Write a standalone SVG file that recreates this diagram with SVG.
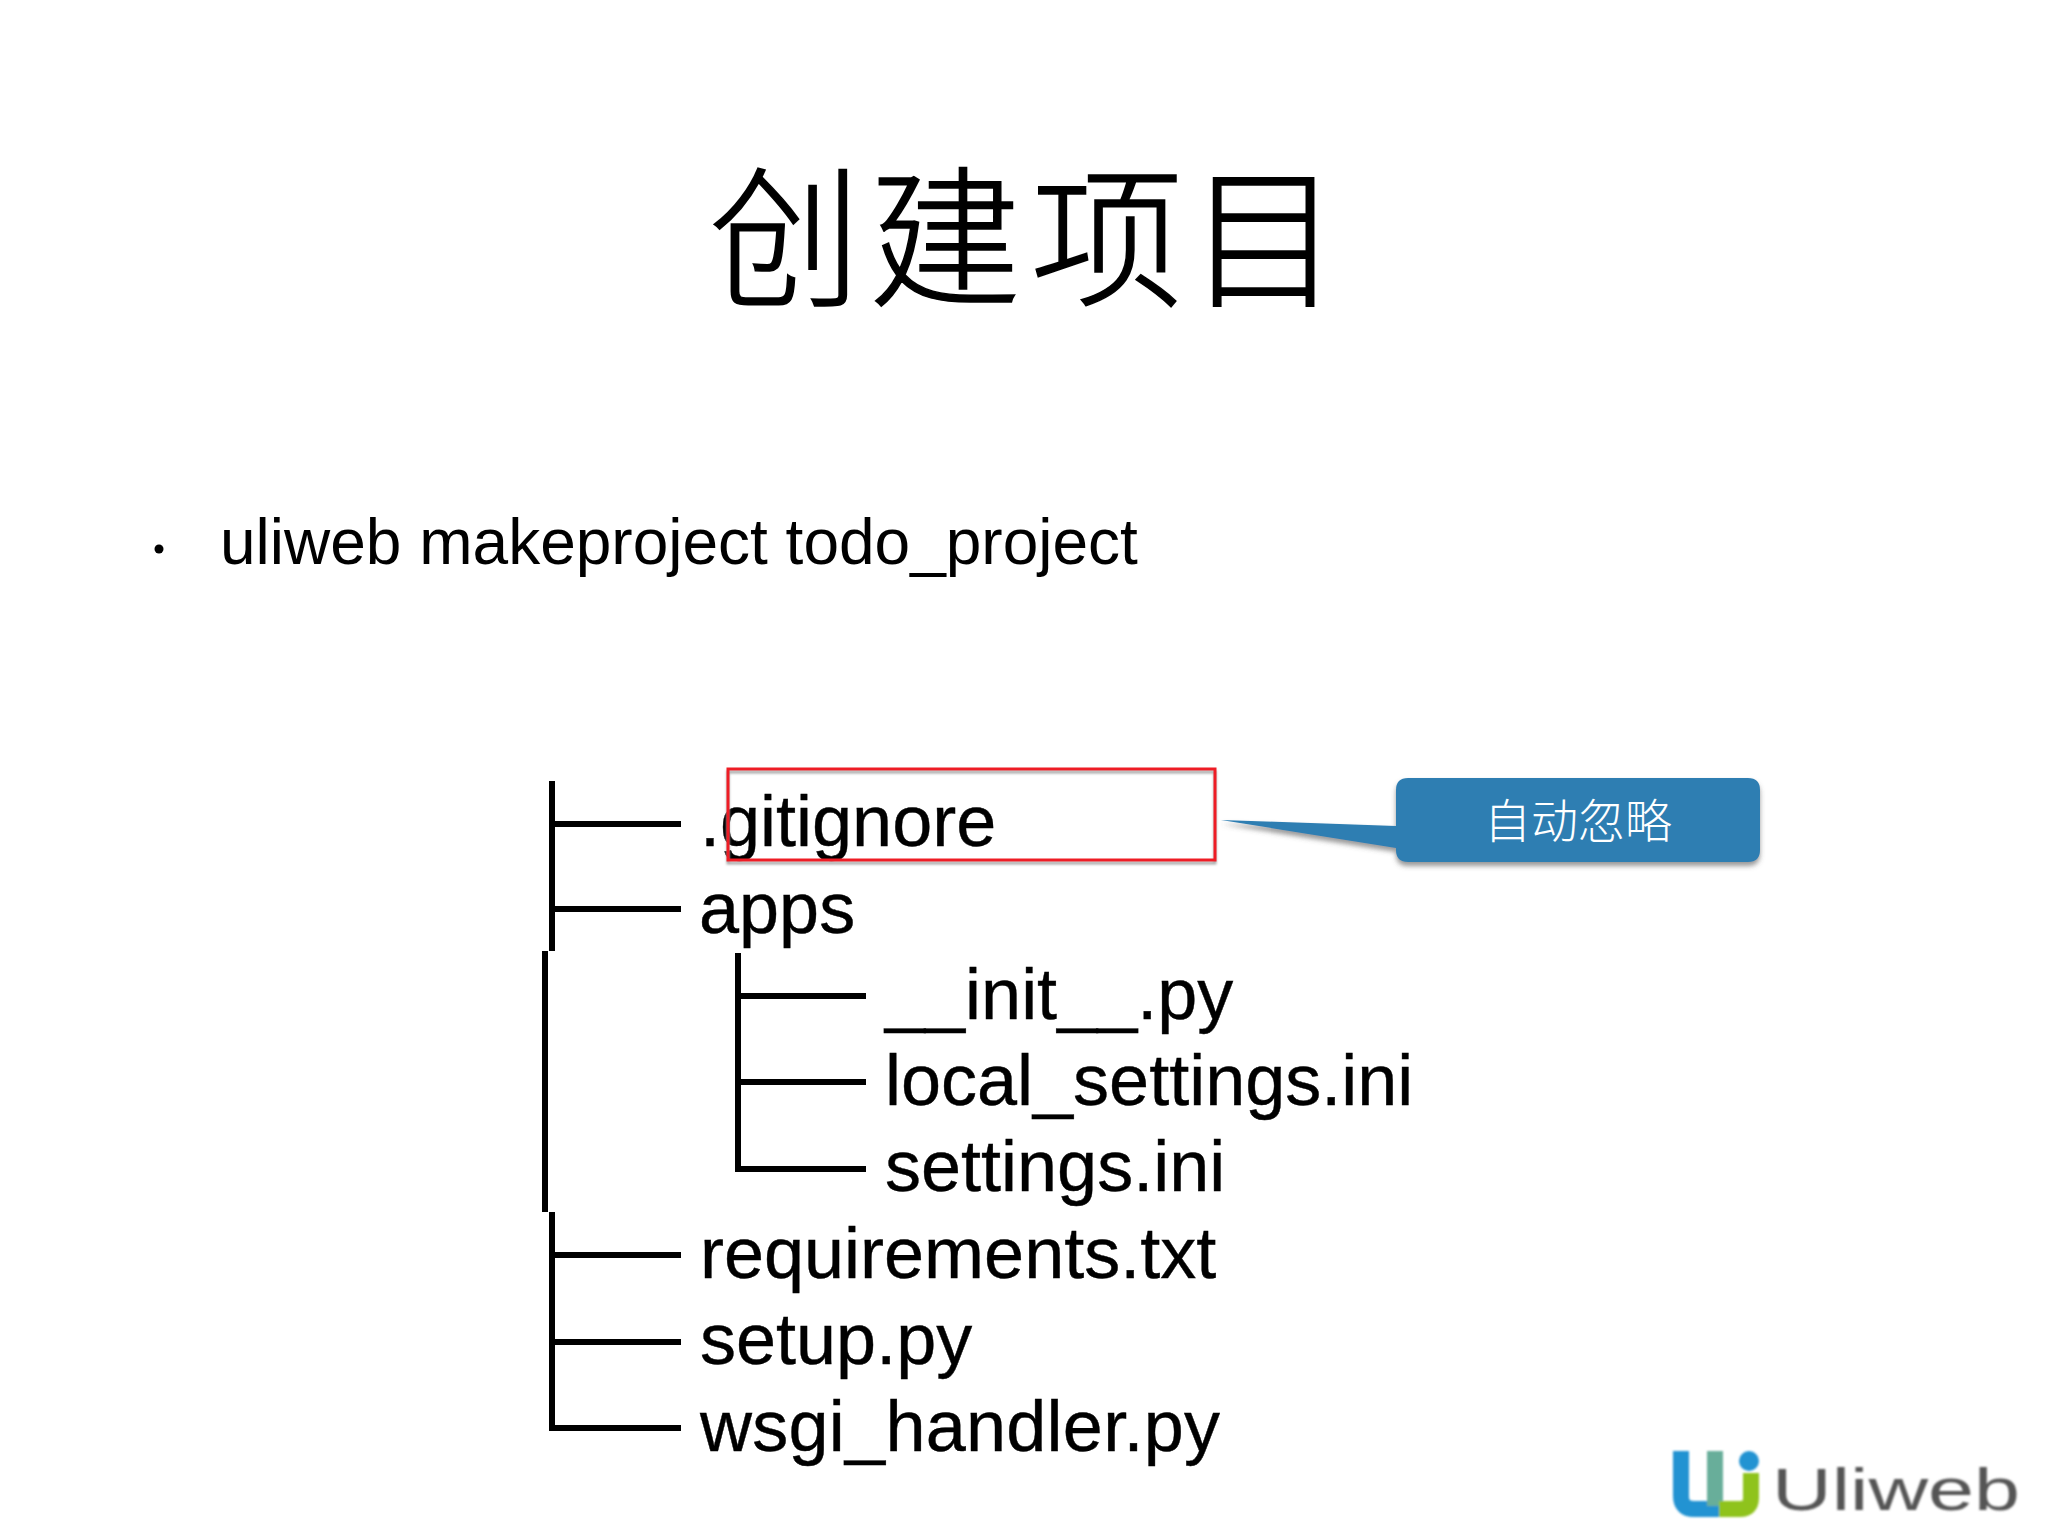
<svg xmlns="http://www.w3.org/2000/svg" width="2048" height="1536" viewBox="0 0 2048 1536">
<style>
.t{font-family:"Liberation Sans",Arial,sans-serif;font-size:72px;fill:#000;stroke:#000;stroke-width:.4}
.c{font-family:"Noto Sans CJK SC",sans-serif}
.l{stroke:#000;stroke-width:6;fill:none}
</style>
<defs>
<filter id="sh" x="-10%" y="-20%" width="120%" height="150%"><feDropShadow dx="0" dy="4" stdDeviation="2.5" flood-color="#555" flood-opacity=".6"/></filter>
<filter id="bl" x="-5%" y="-5%" width="110%" height="110%"><feGaussianBlur stdDeviation="1"/></filter>
</defs>
<rect width="2048" height="1536" fill="#fff"/>
<text id="title" class="c" y="295" font-size="152" font-weight="300" fill="#000" stroke="#000" stroke-width="1.5"><tspan x="709">创</tspan><tspan x="869">建</tspan><tspan x="1031">项</tspan><tspan x="1188">目</tspan></text>
<g id="command">
<circle cx="159" cy="549" r="4.5" fill="#000"/>
<text x="220" y="564" font-family="Liberation Sans,Arial,sans-serif" font-size="64" fill="#000">uliweb makeproject todo_project</text>
</g>
<g id="connectors">
<path class="l" d="M552 781V951M552 824H681M552 909H681M545 951V1212M552 1212V1431M552 1255H681M552 1342H681M549 1428H681"/>
<path class="l" d="M738 953V1170M738 996H866M738 1082H866M735 1169H866"/>
</g>
<g id="tree">
<text class="t" x="700" y="846">.gitignore</text>
<text class="t" x="699" y="933">apps</text>
<text class="t" x="885" y="1019">__init__.py</text>
<text class="t" x="885" y="1105">local_settings.ini</text>
<text class="t" x="885" y="1191">settings.ini</text>
<text class="t" x="700" y="1278">requirements.txt</text>
<text class="t" x="700" y="1364">setup.py</text>
<text class="t" x="700" y="1451" textLength="520">wsgi_handler.py</text>
</g>
<g id="highlight">
<rect x="728" y="769" width="487" height="91" fill="none" stroke="#aaa" stroke-width="3" transform="translate(0,3)" filter="url(#bl)"/>
<rect x="728" y="769" width="487" height="91" fill="none" stroke="#ee1c25" stroke-width="3"/>
</g>
<g id="callout">
<path d="M1221 820L1396 826V790Q1396 778 1408 778H1748Q1760 778 1760 790V850Q1760 862 1748 862H1408Q1396 862 1396 850V848Z" fill="#2e7eb2" filter="url(#sh)"/>
<text class="c" x="1578" y="838" text-anchor="middle" font-size="47" font-weight="300" fill="#fff">自动忽略</text>
</g>
<g id="logo">
<g filter="url(#bl)">
<path d="M1681 1451V1496Q1681 1509 1694 1509H1722" fill="none" stroke="#2193d2" stroke-width="16"/>
<path d="M1715 1451V1506" fill="none" stroke="#68ae9a" stroke-width="16"/>
<path d="M1719 1509H1740Q1751 1509 1751 1498V1473" fill="none" stroke="#8fc31f" stroke-width="16"/>
<circle cx="1749" cy="1461" r="10" fill="#2193d2"/>
<text x="1772" y="1510" font-family="Liberation Sans,Arial,sans-serif" font-size="60" fill="#555" textLength="248" lengthAdjust="spacingAndGlyphs">Uliweb</text>
</g>
</g>
</svg>
